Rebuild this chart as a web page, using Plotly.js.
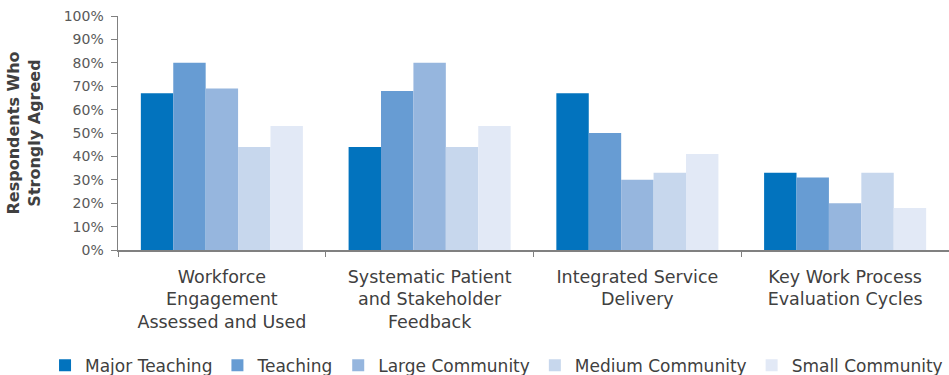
<!DOCTYPE html>
<html>
<head>
<meta charset="utf-8">
<script src="https://cdn.plot.ly/plotly-3.0.1.min.js"></script>
<style>
  html, body { margin: 0; padding: 0; background: #fff; overflow: hidden; }
  #chart { width: 949px; height: 375px; }
</style>
</head>
<body>
<div id="chart"></div>
<script>
// Survey categories (multi-line axis labels)
const categories = [
  "Workforce<br>Engagement<br>Assessed and Used",
  "Systematic Patient<br>and Stakeholder<br>Feedback",
  "Integrated Service<br>Delivery",
  "Key Work Process<br>Evaluation Cycles"
];

// Share of respondents who strongly agreed, by hospital type (%)
const majorTeaching   = [67, 44, 67, 33];
const teaching        = [80, 68, 50, 31];
const largeCommunity  = [69, 80, 30, 20];
const mediumCommunity = [44, 44, 33, 33];
const smallCommunity  = [53, 53, 41, 18];

const seriesNames  = ["Major Teaching", "Teaching", "Large Community", "Medium Community", "Small Community"];
const seriesValues = [majorTeaching, teaching, largeCommunity, mediumCommunity, smallCommunity];
const seriesColors = ["#0273BE", "#679CD3", "#96B6DE", "#C7D7ED", "#E2E9F6"];

const yTickVals = [0, 10, 20, 30, 40, 50, 60, 70, 80, 90, 100];
const yTickText = ["0%", "10%", "20%", "30%", "40%", "50%", "60%", "70%", "80%", "90%", "100%"];

const FONT = "'DejaVu Sans', Verdana, sans-serif";

const traces = seriesNames.map((name, i) => ({
  type: "bar",
  name: name,
  x: categories,
  y: seriesValues[i],
  marker: { color: seriesColors[i], line: { width: 0 } },
  hoverinfo: "skip"
}));

const layout = {
  width: 949,
  height: 375,
  margin: { l: 118, r: 0, t: 16, b: 125, autoexpand: false },
  paper_bgcolor: "#ffffff",
  plot_bgcolor: "#ffffff",
  font: { family: FONT, color: "#404040" },
  barmode: "group",
  bargap: 0.22,
  bargroupgap: 0,
  showlegend: true,
  // anchored left of the plot area so the single row may span the full width
  legend: {
    orientation: "h",
    x: -0.0878,
    xanchor: "left",
    y: -0.418,
    yanchor: "top",
    font: { family: FONT, size: 17, color: "#404040" },
    itemwidth: 30,
    traceorder: "normal"
  },
  xaxis: {
    type: "category",
    automargin: false,
    showline: true,
    linecolor: "#808080",
    linewidth: 1.5,
    ticks: "outside",
    tickson: "boundaries",
    ticklen: 5,
    tickcolor: "#808080",
    ticklabelstandoff: 10,
    tickfont: { family: FONT, size: 17.5, color: "#404040" },
    showgrid: false,
    zeroline: false,
    fixedrange: true
  },
  yaxis: {
    range: [0, 100],
    automargin: false,
    tickvals: yTickVals,
    ticktext: yTickText,
    showline: true,
    linecolor: "#808080",
    linewidth: 1.5,
    ticks: "outside",
    ticklen: 6,
    tickcolor: "#808080",
    ticklabelstandoff: 4,
    tickfont: { family: FONT, size: 14, color: "#595959" },
    showgrid: false,
    zeroline: false,
    title: {
      text: "<b>Respondents Who<br>Strongly Agreed</b>",
      font: { family: FONT, size: 16, color: "#404040" },
      standoff: 19
    },
    fixedrange: true
  }
};

Plotly.newPlot("chart", traces, layout, { displayModeBar: false, staticPlot: true });
</script>
</body>
</html>
